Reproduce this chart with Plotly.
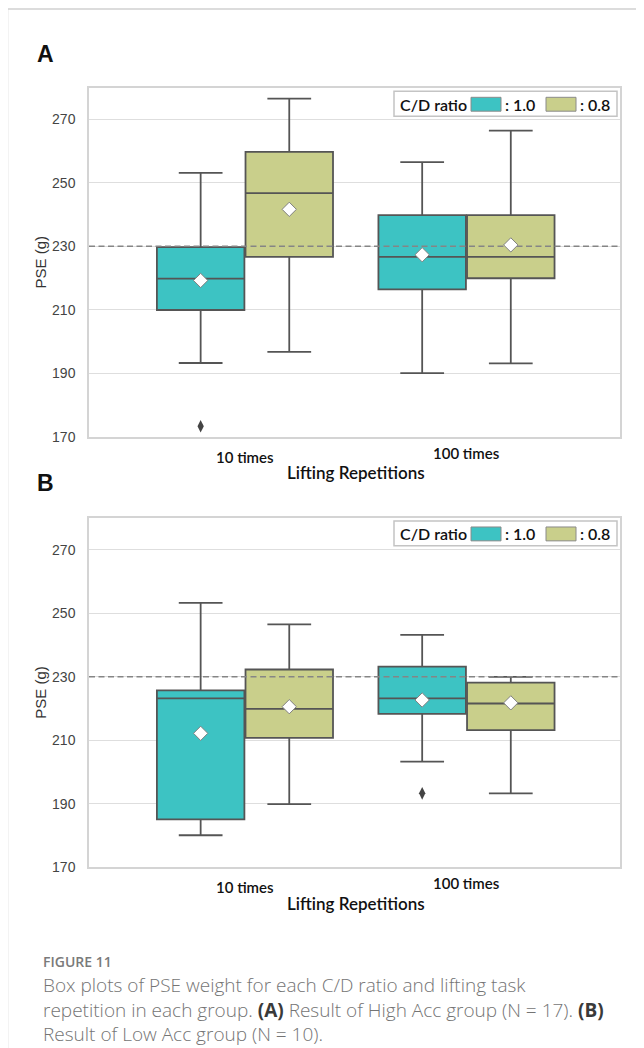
import plotly.graph_objects as go

# page is rendered inside a body with an 8px margin
PAGE_W, PAGE_H = 644, 1048
BODY_MARGIN = 8
W, H = PAGE_W - BODY_MARGIN, PAGE_H - BODY_MARGIN

# ---------------- data ----------------
categories = ["10 times", "100 times"]
ratio_labels = [": 1.0", ": 0.8"]
y_ticks = [170, 190, 210, 230, 250, 270]
reference_weight = 230

# Panel A (High Acc group)
A_r10_q1 = [209.9, 216.4]
A_r10_median = [219.8, 226.6]
A_r10_q3 = [229.7, 239.8]
A_r10_low = [193.2, 190.0]
A_r10_high = [253.1, 256.5]
A_r10_mean = [219.2, 227.3]
A_r10_outliers = [[173.3], []]

A_r08_q1 = [226.6, 219.9]
A_r08_median = [246.7, 226.6]
A_r08_q3 = [259.7, 239.8]
A_r08_low = [196.7, 193.1]
A_r08_high = [276.5, 266.4]
A_r08_mean = [241.6, 230.4]
A_r08_outliers = [[], []]

# Panel B (Low Acc group)
B_r10_q1 = [185.1, 218.3]
B_r10_median = [223.2, 223.2]
B_r10_q3 = [225.7, 233.2]
B_r10_low = [180.1, 203.3]
B_r10_high = [253.3, 243.2]
B_r10_mean = [212.2, 222.7]
B_r10_outliers = [[], [193.3]]

B_r08_q1 = [210.8, 213.2]
B_r08_median = [219.9, 221.6]
B_r08_q3 = [232.3, 228.2]
B_r08_low = [189.9, 193.3]
B_r08_high = [246.5, 230.0]
B_r08_mean = [220.6, 221.8]
B_r08_outliers = [[], []]

# ---------------- style ----------------
COLORS = ["#3dc3c3", "#c9cf8b"]
LINE = "#555555"
OFFSETS = [-0.2, 0.2]
BOX_W = 0.395
LABEL_FONT = "Lato"
ARIAL = "Liberation Sans, Arial, sans-serif"


def px(x):
    return (x - BODY_MARGIN) / W


def py(y):
    return 1 - (y - BODY_MARGIN) / H


fig = go.Figure()

panels = [
    dict(xa="x", ya="y", series=[
        (A_r10_q1, A_r10_median, A_r10_q3, A_r10_low, A_r10_high, A_r10_mean, A_r10_outliers),
        (A_r08_q1, A_r08_median, A_r08_q3, A_r08_low, A_r08_high, A_r08_mean, A_r08_outliers)]),
    dict(xa="x2", ya="y2", series=[
        (B_r10_q1, B_r10_median, B_r10_q3, B_r10_low, B_r10_high, B_r10_mean, B_r10_outliers),
        (B_r08_q1, B_r08_median, B_r08_q3, B_r08_low, B_r08_high, B_r08_mean, B_r08_outliers)]),
]

X_RANGE = [-0.704, 1.693]

for p in panels:
    # boxes
    for si, (q1, med, q3, lo, hi, mean, outs) in enumerate(p["series"]):
        xs = [i + OFFSETS[si] for i in range(len(categories))]
        fig.add_trace(go.Box(
            x=xs, q1=q1, median=med, q3=q3, lowerfence=lo, upperfence=hi,
            name=ratio_labels[si], width=BOX_W, whiskerwidth=0.5,
            fillcolor=COLORS[si], line=dict(color=LINE, width=1.8),
            boxpoints=False, showlegend=False, hoverinfo="skip",
            xaxis=p["xa"], yaxis=p["ya"]))
    # reference line (scatter layer: above boxes, below mean markers)
    fig.add_trace(go.Scatter(
        x=X_RANGE, y=[reference_weight, reference_weight], mode="lines",
        line=dict(color="#858585", width=1.5, dash="6px,3.5px"),
        showlegend=False, hoverinfo="skip", xaxis=p["xa"], yaxis=p["ya"]))
    for si, (q1, med, q3, lo, hi, mean, outs) in enumerate(p["series"]):
        xs = [i + OFFSETS[si] for i in range(len(categories))]
        fig.add_trace(go.Scatter(
            x=xs, y=mean, mode="markers", showlegend=False,
            marker=dict(symbol="diamond", size=11, color="white",
                        line=dict(color="#808080", width=1)),
            xaxis=p["xa"], yaxis=p["ya"]))
        ox, oy = [], []
        for i, vals in enumerate(outs):
            for v in vals:
                ox.append(i + OFFSETS[si])
                oy.append(v)
        if ox:
            fig.add_trace(go.Scatter(
                x=ox, y=oy, mode="markers", showlegend=False,
                marker=dict(symbol="diamond-tall", size=9, color="#444"),
                xaxis=p["xa"], yaxis=p["ya"]))

# panel geometry (pixels in the page)
PANELS_PX = [dict(top=89, bottom=440, ymax=279.7), dict(top=522, bottom=874, ymax=280.0)]
X_LEFT, X_RIGHT = 89, 620

axis_common = dict(showline=True, mirror=True, linecolor="#d4d4d4", linewidth=1.5,
                   zeroline=False)
ytick_font = dict(family=ARIAL, size=14, color="#444")
fig.update_layout(
    xaxis=dict(domain=[px(X_LEFT), px(X_RIGHT)], range=X_RANGE, anchor="y",
               showticklabels=False, showgrid=False, ticks="", **axis_common),
    yaxis=dict(domain=[py(PANELS_PX[0]["bottom"]), py(PANELS_PX[0]["top"])],
               range=[170, PANELS_PX[0]["ymax"]], anchor="x", tickvals=y_ticks,
               gridcolor="#dedede", gridwidth=1, ticklabelstandoff=9,
               tickfont=ytick_font, **axis_common),
    xaxis2=dict(domain=[px(X_LEFT), px(X_RIGHT)], range=X_RANGE, anchor="y2",
                showticklabels=False, showgrid=False, ticks="", **axis_common),
    yaxis2=dict(domain=[py(PANELS_PX[1]["bottom"]), py(PANELS_PX[1]["top"])],
                range=[170, PANELS_PX[1]["ymax"]], anchor="x2", tickvals=y_ticks,
                gridcolor="#dedede", gridwidth=1, ticklabelstandoff=9,
                tickfont=ytick_font, **axis_common),
)

shapes = []
annotations = []

# frame of the figure card
shapes.append(dict(type="line", xref="paper", yref="paper", x0=px(7.5), x1=px(7.5),
                   y0=-0.01, y1=py(9), line=dict(color="#d0d0d0", width=1.5)))
shapes.append(dict(type="line", xref="paper", yref="paper", x0=px(7.5), x1=1.02,
                   y0=py(9), y1=py(9), line=dict(color="#d0d0d0", width=1.5)))

panel_letters = ["A", "B"]
cat_label_dy = [0, -4]
for k, (p, geo) in enumerate(zip(panels, PANELS_PX)):
    xa, ya = p["xa"], p["ya"]
    top, bottom = geo["top"], geo["bottom"]
    # panel letter
    annotations.append(dict(text=f"<b>{panel_letters[k]}</b>", xref="paper", yref="paper",
                            x=px(35), y=py(top - 35), xanchor="left", yanchor="middle",
                            showarrow=False,
                            font=dict(family=ARIAL, size=23, color="#111")))
    # y title
    annotations.append(dict(text="PSE (g)", xref="paper", yref="paper", x=px(41),
                            y=py((top + bottom) / 2), textangle=-90, showarrow=False,
                            xanchor="center", yanchor="middle",
                            font=dict(family=ARIAL, size=15, color="#333")))
    # category labels
    for i, c in enumerate(categories):
        annotations.append(dict(text=c, xref=xa, yref="paper", x=i,
                                y=py(bottom + 20 + cat_label_dy[i]), showarrow=False,
                                xanchor="center", yanchor="middle",
                                font=dict(family=LABEL_FONT, size=15, color="#111",
                                          weight=600)))
    annotations.append(dict(text="Lifting Repetitions", xref="paper", yref="paper",
                            x=px(356), y=py(bottom + 36), showarrow=False,
                            xanchor="center", yanchor="middle",
                            font=dict(family=LABEL_FONT, size=17, color="#111",
                                      weight=600)))
    # legend box
    shapes.append(dict(type="rect", xref="paper", yref="paper", x0=px(394), x1=px(617),
                       y0=py(top + 3), y1=py(top + 28), fillcolor="white",
                       line=dict(color="#c4c4c4", width=1.5)))
    annotations.append(dict(text="C/D ratio", xref="paper", yref="paper", x=px(398),
                            y=py(top + 16), xanchor="left", yanchor="middle",
                            showarrow=False,
                            font=dict(family=LABEL_FONT, size=16, color="#111",
                                      weight=600)))
    sw_x = [471, 546]
    for si in range(2):
        shapes.append(dict(type="rect", xref="paper", yref="paper", x0=px(sw_x[si]),
                           x1=px(sw_x[si] + 30), y0=py(top + 9), y1=py(top + 23),
                           fillcolor=COLORS[si], line=dict(color="#8a8a8a", width=1)))
        annotations.append(dict(text=ratio_labels[si], xref="paper", yref="paper",
                                x=px(sw_x[si] + 32), y=py(top + 16), xanchor="left",
                                yanchor="middle", showarrow=False,
                                font=dict(family=LABEL_FONT, size=16, color="#111",
                                          weight=600)))

# caption
annotations.append(dict(text="FIGURE 11", xref="paper", yref="paper", x=px(41),
                        y=py(969), xanchor="left", yanchor="middle", showarrow=False,
                        font=dict(family="Open Sans", size=14, color="#7a7a7a",
                                  weight=600)))
caption_lines = [
    "Box plots of PSE weight for each C/D ratio and lifting task",
    "repetition in each group. <b><span style='color:#3a3a3a'>(A)</span></b> Result of High Acc group (N = 17). <b><span style='color:#3a3a3a'>(B)</span></b>",
    "Result of Low Acc group (N = 10).",
]
annotations.append(dict(text="<br>".join(caption_lines), xref="paper", yref="paper",
                        x=px(41), y=py(1017), xanchor="left", yanchor="middle",
                        align="left", showarrow=False,
                        font=dict(family="Open Sans", size=19, color="#747474",
                                  weight=300)))

fig.update_layout(
    width=W, height=H, margin=dict(l=0, r=0, t=0, b=0),
    paper_bgcolor="white", plot_bgcolor="white",
    boxmode="overlay", showlegend=False,
    shapes=shapes, annotations=annotations,
)

fig.write_html("out.html")
